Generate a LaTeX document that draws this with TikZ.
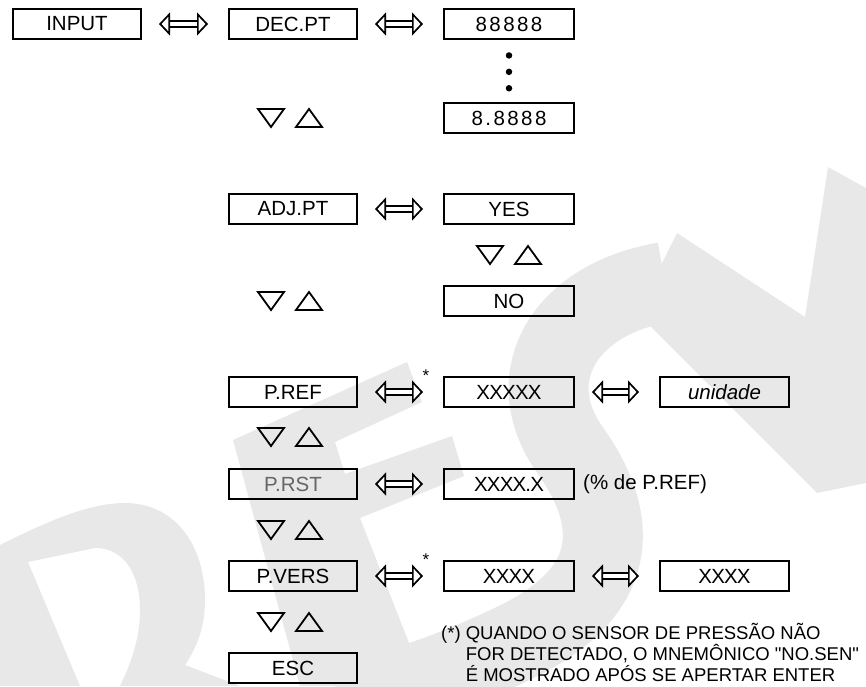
\documentclass[tikz,border=0pt]{standalone}
\usepackage{fontspec}
\setmainfont{Liberation Sans}
\newfontfamily\notefont{Liberation Sans}
\usepackage{tikz}
\usetikzlibrary{arrows.meta,positioning}

\tikzstyle{panel} = [rectangle, draw=black, line width=1.8pt, minimum width=128.2pt, minimum height=30.2pt, inner sep=0pt, font=\fontsize{20.5}{24}\selectfont]
\tikzstyle{readout} = [panel, minimum width=130.2pt]
\tikzstyle{dblarrow} = [draw, double=white, double distance=4pt, line width=1.6pt, {Triangle[open,fill=white,length=11pt,width=23pt,line width=1.7pt]}-{Triangle[open,fill=white,length=11pt,width=23pt,line width=1.7pt]}, shorten <=17pt, shorten >=20pt]
\tikzstyle{dot} = [circle, fill=black, inner sep=0pt, minimum size=6.5pt]
\tikzstyle{navtri} = [draw, line width=1.8pt, line join=miter]
\tikzstyle{starnote} = [inner sep=0pt, font=\fontsize{17}{17}\selectfont]
\tikzstyle{watermark} = [fill=black!9, draw=none]

% down and up keys, centred on #2
\newcommand{\updown}[2]{%
  \coordinate (#1) at (#2);
  \draw[navtri] ([xshift=-32pt,yshift=9pt]#1) -- ++(26pt,0pt) -- ++(-13pt,-18pt) -- cycle;
  \draw[navtri] ([xshift=6pt,yshift=-9pt]#1) -- ++(26pt,0pt) -- ++(-13pt,18pt) -- cycle;}

\begin{document}
\begin{tikzpicture}[x=1pt, y=-1pt]
\useasboundingbox (0,0) rectangle (866,686);

% watermark =============================
\fill[watermark, even odd rule] (0,545) .. controls (50,520) and (90,503) .. (125,503) .. controls (175,503) and (205,545) .. (205,600) .. controls (205,630) and (195,650) .. (185,665) -- (240,686) -- (0,686) -- cycle
  (28,562) -- (95,548) .. controls (125,548) and (140,575) .. (140,610) .. controls (140,640) and (130,665) .. (120,686) -- (80,686) -- cycle;
\fill[watermark] (233,440) -- (407,362) -- (422,402) -- (335,442) -- (345,474) -- (452,436) -- (464,476) -- (360,518) -- (413,653) -- (425,686) -- (300,686) -- cycle;
\draw[black!9, line width=80pt] (665,282) .. controls (560,300) and (520,380) .. (570,450) .. controls (620,520) and (620,590) .. (520,640) .. controls (460,670) and (400,690) .. (340,705);
\fill[watermark] (677,233) -- (805,317) -- (828,167) -- (866,188) -- (866,483) -- (817,493) -- (637,313) -- cycle;

% input chain =============================
\node[panel] (input) at (77,24) {INPUT};
\node[panel, right=86pt of input] (decpt) {DEC.PT};
\node[readout, right=85pt of decpt] (digits) {\addfontfeature{LetterSpace=12}88888};
\node[dot, below=12pt of digits] (dot1) {};
\node[dot, below=9.5pt of dot1] (dot2) {};
\node[dot, below=9.5pt of dot2] (dot3) {};
\node[readout, below=62pt of digits] (digitsdp) {\addfontfeature{LetterSpace=12}8.8888};
\updown{keysdec}{290,118}

\path[dblarrow] (input) -- (decpt);
\path[dblarrow] (decpt) -- (digits);

% adjust point =============================
\node[panel, below=153pt of decpt] (adjpt) {ADJ.PT};
\node[readout, right=85pt of adjpt] (yes) {YES};
\updown{keysyes}{509,255}
\node[readout, below=60pt of yes] (no) {NO};
\updown{keysadj}{290,301}

\path[dblarrow] (adjpt) -- (yes);

% pressure =============================
\node[panel, below=151pt of adjpt] (pref) {P.REF};
\node[readout, right=85pt of pref] (refval) {\addfontfeature{LetterSpace=-4}XXXXX};
\node[panel, right=84pt of refval, minimum width=129.2pt] (unit) {\itshape unidade};
\node[starnote, anchor=south] (ast1) at ([xshift=-17pt,yshift=-6pt]refval.north west) {*};
\updown{keysref}{290,437}

\node[panel, below=60pt of pref, text=black!60] (prst) {P.RST};
\node[readout, right=85pt of prst] (rstval) {\addfontfeature{LetterSpace=-4}XXXX.X};
\node[inner sep=0pt, right=8pt of rstval, font=\fontsize{20.5}{24}\selectfont] (pct) {(\% de P.REF)};
\updown{keysrst}{290,530}

\node[panel, below=60pt of prst] (pvers) {P.VERS};
\node[readout, right=85pt of pvers] (versval) {\addfontfeature{LetterSpace=-4}XXXX};
\node[panel, right=84pt of versval, minimum width=129.2pt] (versval2) {\addfontfeature{LetterSpace=-4}XXXX};
\node[starnote, anchor=south] (ast2) at ([xshift=-17pt,yshift=-6pt]versval.north west) {*};
\updown{keysvers}{290,622}

\node[panel, below=60pt of pvers] (esc) {ESC};

\path[dblarrow] (pref) -- (refval);
\path[dblarrow] (refval) -- (unit);
\path[dblarrow] (prst) -- (rstval);
\path[dblarrow] (pvers) -- (versval);
\path[dblarrow] (versval) -- (versval2);

% footnote
\node[anchor=north west, align=left, inner sep=0pt, font=\notefont\fontsize{18.5}{17}\selectfont] (note) at (441,623)
  {(*) QUANDO O SENSOR DE PRESSÃO NÃO\\\phantom{(*) }FOR DETECTADO, O MNEMÔNICO "NO.SEN"\\\phantom{(*) }É MOSTRADO APÓS SE APERTAR ENTER};

\end{tikzpicture}
\end{document}
